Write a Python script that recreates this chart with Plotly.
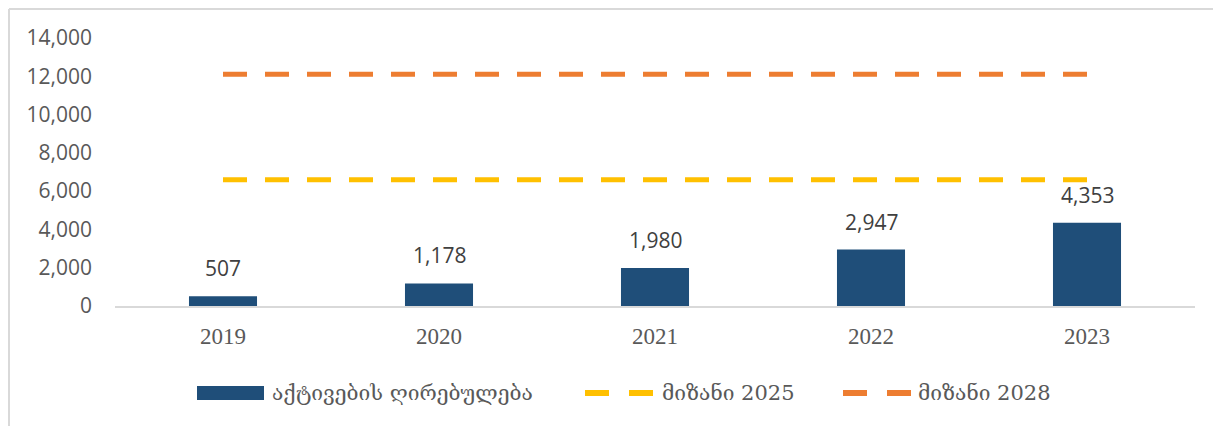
import plotly.graph_objects as go

# data
years = ["2019", "2020", "2021", "2022", "2023"]
asset_values = [507, 1178, 1980, 2947, 4353]
target_2025 = [6600, 6600, 6600, 6600, 6600]
target_2028 = [12100, 12100, 12100, 12100, 12100]

bar_name = "აქტივების ღირებულება"
t25_name = "მიზანი 2025"
t28_name = "მიზანი 2028"

BAR_C, Y_C, O_C = "#1F4E79", "#FFC000", "#ED7D31"
GEO_FONT = "DejaVu Serif, DejaVu Sans, serif"

# page body adds 8px offset on top/left, so figure is trimmed by that much
OFF = 8
W, H = 1221 - OFF, 426 - OFF
L, R, T, B = 115 - OFF, 26, 38 - OFF, 120
pw, ph = W - L - R, H - T - B


def px(sx):  # screen x -> paper
    return (sx - 115) / pw


def py(sy):  # screen y -> paper
    return (306 - sy) / ph


fig = go.Figure()
fig.add_trace(go.Bar(
    x=years, y=asset_values, name=bar_name,
    marker=dict(color=BAR_C, line=dict(width=0)),
    width=0.315, showlegend=False,
))
fig.add_trace(go.Scatter(
    x=years, y=target_2025, name=t25_name, mode="lines", showlegend=False,
    line=dict(color=Y_C, width=5, dash="24px,18px"),
))
fig.add_trace(go.Scatter(
    x=years, y=target_2028, name=t28_name, mode="lines", showlegend=False,
    line=dict(color=O_C, width=5, dash="24px,18px"),
))

# value labels above bars (category axis: annotation x is the category index)
for i, v in enumerate(asset_values):
    fig.add_annotation(x=i, y=v, text=f"{v:,}", showarrow=False,
                       yanchor="bottom", yshift=12,
                       font=dict(family="Open Sans, Noto Sans, sans-serif", size=21, color="#404040"))

# outer frame (top and left edges visible)
fx0 = px(9)
fy1 = py(9)
fig.add_shape(type="line", xref="paper", yref="paper", x0=fx0, x1=px(1225),
              y0=fy1, y1=fy1, line=dict(color="#D9D9D9", width=2))
fig.add_shape(type="line", xref="paper", yref="paper", x0=fx0, x1=fx0,
              y0=fy1, y1=py(430), line=dict(color="#D9D9D9", width=2))

# legend drawn by hand to match wide keys
ly = py(393)
fig.add_shape(type="rect", xref="paper", yref="paper", x0=px(197), x1=px(264),
              y0=py(400), y1=py(386), fillcolor=BAR_C, line=dict(width=0))
fig.add_annotation(xref="paper", yref="paper", x=px(270), y=ly, xanchor="left", yanchor="middle",
                   text=bar_name, showarrow=False, font=dict(family=GEO_FONT, size=21, color="#595959"))
for c, x0, tx, name in [(Y_C, 585, 660, t25_name), (O_C, 843, 916, t28_name)]:
    for d in (0, 44):
        fig.add_shape(type="line", xref="paper", yref="paper", x0=px(x0 + d), x1=px(x0 + d + 24),
                      y0=ly, y1=ly, line=dict(color=c, width=6))
    fig.add_annotation(xref="paper", yref="paper", x=px(tx), y=ly, xanchor="left", yanchor="middle",
                       text=name, showarrow=False, font=dict(family=GEO_FONT, size=21, color="#595959"))

fig.update_layout(
    width=W, height=H,
    margin=dict(l=L, r=R, t=T, b=B),
    plot_bgcolor="white", paper_bgcolor="white",
    showlegend=False,
    xaxis=dict(
        type="category",
        showline=True, linecolor="#D9D9D9", linewidth=2,
        tickfont=dict(family="Liberation Serif, DejaVu Serif, serif", size=23, color="#595959"),
        ticks="", showgrid=False, ticklabelstandoff=8,
    ),
    yaxis=dict(
        range=[0, 14000], dtick=2000, tickformat=",d",
        showgrid=False, zeroline=False, showline=False,
        tickfont=dict(family="Open Sans, Noto Sans, sans-serif", size=21, color="#595959"),
        ticklabelstandoff=22,
    ),
)

fig.write_html("out.html")
